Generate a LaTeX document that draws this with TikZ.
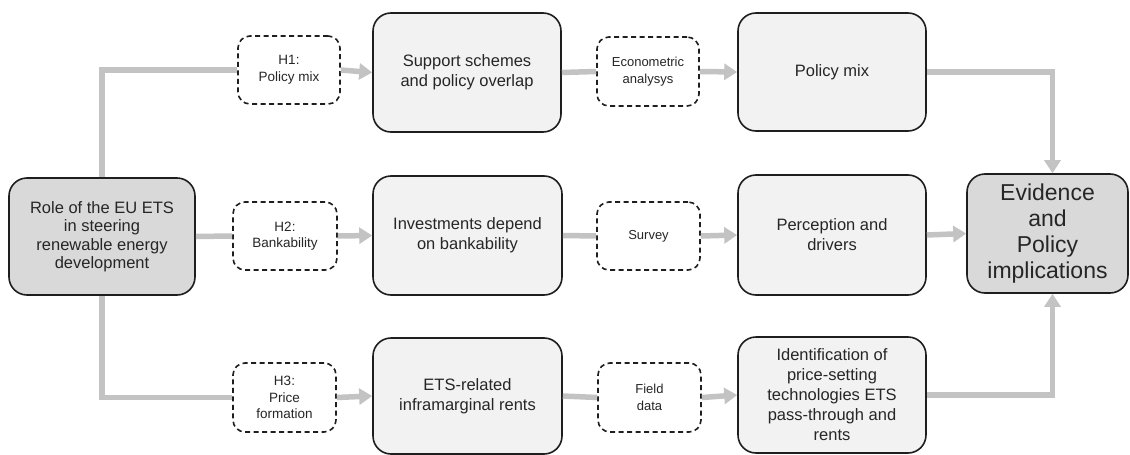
\documentclass[tikz,border=0pt]{standalone}
\usepackage{fontspec}
\setmainfont{Liberation Sans}
\usetikzlibrary{arrows.meta}
\definecolor{lightbox}{HTML}{F2F2F2}
\definecolor{darkbox}{HTML}{D9D9D9}
\definecolor{conn}{HTML}{C3C3C3}
\definecolor{edge}{HTML}{1E1E1E}
\begin{document}
\begin{tikzpicture}[x=1pt,y=-1pt,
  mainbox/.style={draw=edge, line width=1.6pt, rounded corners=18pt, fill=lightbox,
    inner sep=0pt, align=center, text=black!85, font=\fontsize{16.5}{20}\selectfont},
  keybox/.style={mainbox, fill=darkbox},
  methbox/.style={draw=edge, line width=1.6pt, dash pattern=on 5pt off 3.5pt, rounded corners=12pt,
    fill=white, inner sep=0pt, align=center, text=black!85, font=\fontsize{13}{16.5}\selectfont},
  hypbox/.style={methbox, font=\fontsize{13.5}{16.5}\selectfont},
  link/.style={draw=conn, line width=5.5pt},
  arr/.style={link, -{Triangle[length=13pt,width=16pt]}}
]
\useasboundingbox (0,0) rectangle (1130,455);

\node[keybox, minimum width=186pt, minimum height=117pt, font=\fontsize{16.5}{18.5}\selectfont] (root) at (102,236.5)
  {Role of the EU ETS\\in steering\\renewable energy\\development};

\node[hypbox, minimum width=102pt, minimum height=68pt] (h1) at (289,70) {H1:\\Policy mix};
\node[hypbox, minimum width=104pt, minimum height=68pt] (h2) at (285,236) {H2:\\Bankability};
\node[hypbox, minimum width=103pt, minimum height=69pt] (h3) at (284.5,397.5) {H3:\\Price\\formation};

\node[mainbox, minimum width=188pt, minimum height=119pt] (sup) at (467,72.5) {Support schemes\\and policy overlap};
\node[mainbox, minimum width=189pt, minimum height=119pt] (inv) at (467.5,235.5) {Investments depend\\on bankability};
\node[mainbox, minimum width=189pt, minimum height=116pt] (ets) at (467.5,396) {ETS-related\\inframarginal rents};

\node[methbox, minimum width=102pt, minimum height=69pt] (eco) at (648,71.5) {Econometric\\analysys};
\node[methbox, minimum width=103pt, minimum height=68pt] (sur) at (648.5,236) {Survey};
\node[methbox, minimum width=103pt, minimum height=69pt] (fld) at (649.5,397.5) {Field\\data};

\node[mainbox, minimum width=188pt, minimum height=118pt] (pm) at (832,72) {Policy mix};
\node[mainbox, minimum width=188pt, minimum height=120pt] (per) at (832,235) {Perception and\\drivers};
\node[mainbox, minimum width=188pt, minimum height=116pt] (idn) at (832,395)
  {Identification of\\price-setting\\technologies ETS\\pass-through and\\rents};

\node[keybox, minimum width=161pt, minimum height=119pt, font=\fontsize{23}{25.7}\selectfont] (evd) at (1047.5,233.5)
  {Evidence\\and\\Policy\\implications};

\coordinate (top) at ([xshift=5pt]evd.north);
\coordinate (bot) at ([xshift=5pt]evd.south);

% connectors
\draw[link] (root.north) |- (h1.west);
\draw[link] (root.east) -- (h2.west);
\draw[link] (root.south) |- (h3.west);

\draw[arr] (h1.east) -- (sup.west);
\draw[arr] (h2.east) -- (inv.west);
\draw[arr] (h3.east) -- (ets.west);

\draw[link] (sup.east) -- (eco.west);
\draw[link] (inv.east) -- (sur.west);
\draw[link] (ets.east) -- (fld.west);

\draw[arr] (eco.east) -- (pm.west);
\draw[arr] (sur.east) -- (per.west);
\draw[arr] (fld.east) -- (idn.west);

\draw[arr] (pm.east) -| (top);
\draw[arr] (per.east) -- (evd.west);
\draw[arr] (idn.east) -| (bot);
\end{tikzpicture}
\end{document}
